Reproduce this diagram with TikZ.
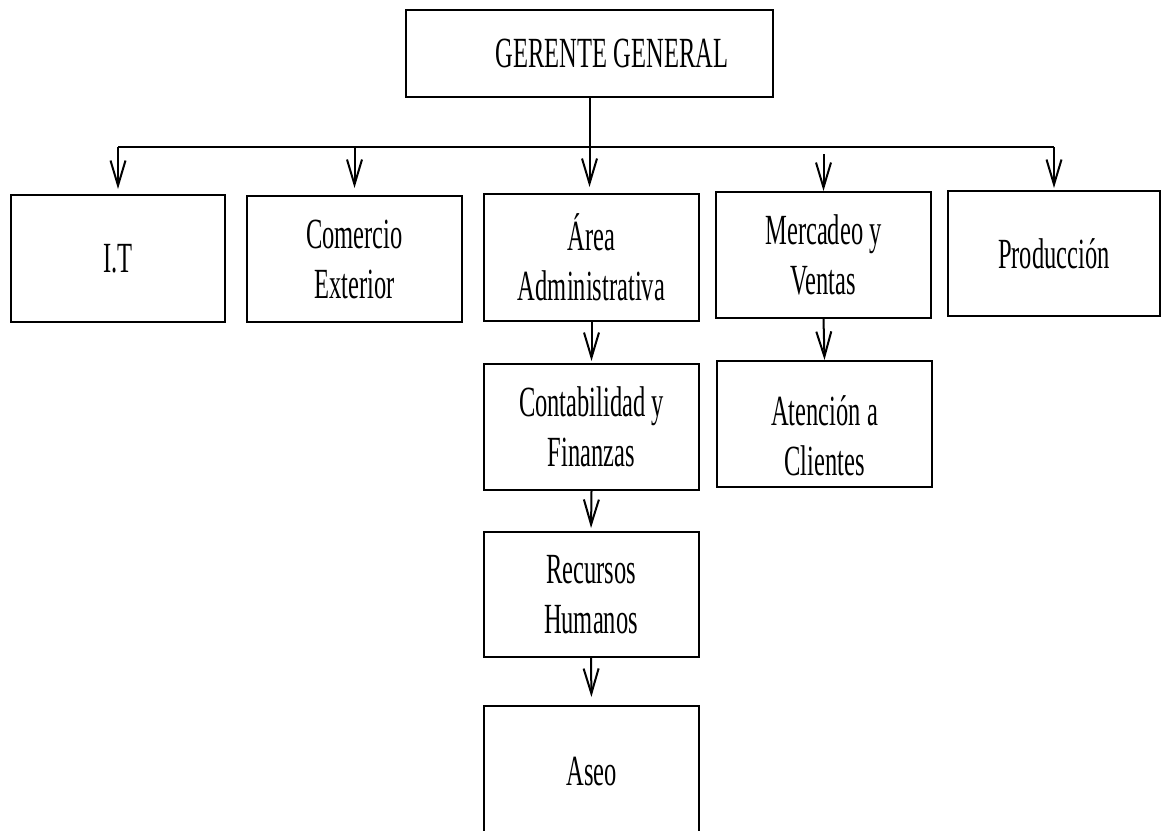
\documentclass[tikz,border=0pt]{standalone}
\usepackage{fontspec}
\setmainfont{Liberation Serif}[FakeStretch=0.57]
\usetikzlibrary{arrows.meta,calc}
\begin{document}
\begin{tikzpicture}[x=1pt,y=-1pt,
  line/.style={line width=2pt},
  arr/.style={line width=2pt,-{Straight Barb[length=25pt,width=15pt]}},
  box/.style={draw,line width=2pt,minimum width=215pt,minimum height=126pt,
    inner sep=0pt,align=center,font=\fontsize{43pt}{50pt}\selectfont}]
\useasboundingbox (0,0) rectangle (1161,830);
\clip (0,0) rectangle (1161,830);
\node[box,minimum width=367pt,minimum height=87pt] (gg) at (589.5,53.5) {\hspace*{45pt}GERENTE GENERAL};
\node[box,minimum width=214pt,minimum height=127pt] (it) at (118,258.5) {I.T};
\node[box] (com) at (354.5,259) {Comercio\\Exterior};
\node[box,minimum height=127pt] (area) at (591.5,257.5) {Área\\Administrativa};
\node[box] (merc) at (823.5,255) {Mercadeo y\\Ventas};
\node[box,minimum width=212pt,minimum height=125pt] (prod) at (1054,253.5) {Producción};
\node[box] (cont) at (591.5,427) {Contabilidad y\\Finanzas};
\node[box,label={[align=center,yshift=-12pt,font=\fontsize{43pt}{50pt}\selectfont]center:{Atención a\\Clientes}}] (aten) at (824.5,424) {};
\node[box,minimum height=125pt] (rrhh) at (591,594.5) {Recursos\\Humanos};
\node[box,minimum height=132pt] (aseo) at (591.5,772) {Aseo};
\coordinate (bus) at (589.5,147);
\coordinate (mtop) at ($(merc.north |- bus)+(0,7)$);
\draw[line] (gg.south) -- (bus);
\draw[line] (it.north |- bus) -- (prod.north |- bus);
\draw[arr,shorten >=5pt] (it.north |- bus) -- (it.north);
\draw[arr,shorten >=7pt] (com.north |- bus) -- (com.north);
\draw[arr,shorten >=6pt] (bus) -- (bus |- area.north);
\draw[arr] (mtop) -- (merc.north);
\draw[arr,shorten >=2pt] (prod.north |- bus) -- (prod.north);
\draw[arr,shorten >=2pt] (area.south) -- (cont.north);
\draw[arr] (merc.south) -- (aten.north);
\draw[arr,shorten >=3pt] (cont.south) -- (rrhh.north);
\draw[arr,shorten >=8pt] (rrhh.south) -- (aseo.north);
\end{tikzpicture}
\end{document}
